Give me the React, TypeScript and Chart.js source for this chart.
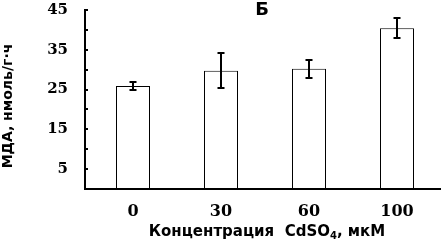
import React, { useEffect, useRef } from "react";
import { Chart, registerables } from "chart.js";

Chart.register(...registerables);

const categories = ["0", "30", "60", "100"];
const mdaValues = [25.9, 29.7, 30.2, 40.4];
const mdaErrors = [1.1, 4.4, 2.3, 2.5];
const yTickLabels = [5, 15, 25, 35, 45];
const yTickMarks = [5, 10, 15, 20, 25, 30, 35, 40, 45];
const chartTitle = "Б";
const xAxisTitleMain = "Концентрация  CdSO";
const xAxisTitleSub = "4";
const xAxisTitleTail = ", мкМ";
const yAxisTitle = "МДА, нмоль/г·ч";

const AXIS_X = 85;
const AXIS_LEFT_END = 84;

const axesPlugin = {
  id: "axesLines",
  afterDatasetsDraw(chart: any) {
    const ctx = chart.ctx;
    const area = chart.chartArea;
    const yScale = chart.scales.y;
    ctx.save();
    ctx.fillStyle = "#000";
    const yTop = Math.round(yScale.getPixelForValue(45));
    const yBot = Math.round(area.bottom);
    // y axis line (2px)
    ctx.fillRect(AXIS_X - 1, yTop - 1, 2, yBot - yTop + 2);
    // inward tick marks
    yTickMarks.forEach((v) => {
      const py = Math.round(yScale.getPixelForValue(v));
      ctx.fillRect(AXIS_X, py - 1, 3, 2);
    });
    // x axis line (2px)
    ctx.fillRect(AXIS_LEFT_END, yBot - 1, Math.round(area.right) - AXIS_LEFT_END, 2);
    ctx.restore();
  },
};

const errorBarPlugin = {
  id: "errorBars",
  afterDatasetsDraw(chart: any) {
    const ctx = chart.ctx;
    const meta = chart.getDatasetMeta(0);
    const yScale = chart.scales.y;
    ctx.save();
    ctx.strokeStyle = "#000";
    ctx.lineWidth = 2;
    meta.data.forEach((el: any, i: number) => {
      const x = Math.round(el.x);
      const top = Math.round(yScale.getPixelForValue(mdaValues[i] + mdaErrors[i]));
      const bot = Math.round(yScale.getPixelForValue(mdaValues[i] - mdaErrors[i]));
      ctx.beginPath();
      ctx.moveTo(x, top);
      ctx.lineTo(x, bot);
      ctx.moveTo(x - 3.5, top);
      ctx.lineTo(x + 3.5, top);
      ctx.moveTo(x - 3.5, bot);
      ctx.lineTo(x + 3.5, bot);
      ctx.stroke();
    });
    ctx.restore();
  },
};

const textPlugin = {
  id: "texts",
  afterDraw(chart: any) {
    const ctx = chart.ctx;
    ctx.save();
    ctx.fillStyle = "#000";
    // title
    ctx.font = "bold 18px 'DejaVu Sans'";
    ctx.textAlign = "center";
    ctx.textBaseline = "middle";
    ctx.fillText(chartTitle, 262, 10);
    // x title with subscript
    const mainFont = "bold 15px 'DejaVu Sans'";
    const subFont = "bold 10px 'DejaVu Sans'";
    ctx.font = mainFont;
    const w1 = ctx.measureText(xAxisTitleMain).width;
    const w3 = ctx.measureText(xAxisTitleTail).width;
    ctx.font = subFont;
    const w2 = ctx.measureText(xAxisTitleSub).width;
    const total = w1 + w2 + w3;
    let x = 267 - total / 2;
    const y = 232;
    ctx.textAlign = "left";
    ctx.textBaseline = "middle";
    ctx.font = mainFont;
    ctx.fillText(xAxisTitleMain, x, y);
    x += w1;
    ctx.font = subFont;
    ctx.fillText(xAxisTitleSub, x, y + 4);
    x += w2;
    ctx.font = mainFont;
    ctx.fillText(xAxisTitleTail, x, y);
    // y title
    ctx.translate(8, 106);
    ctx.rotate(-Math.PI / 2);
    ctx.font = "bold 14px 'DejaVu Sans'";
    ctx.textAlign = "center";
    ctx.textBaseline = "middle";
    ctx.fillText(yAxisTitle, 0, 0);
    ctx.restore();
  },
};

export default function App() {
  const canvasRef = useRef<HTMLCanvasElement | null>(null);

  useEffect(() => {
    document.body.style.margin = "0";
    const canvas = canvasRef.current;
    if (!canvas) return;
    const chart = new Chart(canvas, {
      type: "bar",
      data: {
        labels: categories,
        datasets: [
          {
            data: mdaValues,
            backgroundColor: "#ffffff",
            borderColor: "#000000",
            borderWidth: 1,
            barThickness: 34,
            inflateAmount: 0,
          },
        ],
      },
      options: {
        responsive: false,
        animation: false,
        layout: { padding: { top: 10, right: 1, left: 0, bottom: 0 } },
        plugins: {
          legend: { display: false },
          tooltip: { enabled: false },
          title: { display: false },
        },
        scales: {
          x: {
            offset: true,
            grid: { display: false, drawTicks: false },
            border: { display: false },
            ticks: {
              color: "#000",
              font: { family: "'DejaVu Serif'", weight: "bold", size: 16 },
              padding: 13,
            },
            afterFit(scale: any) {
              scale.height = 60;
              scale.paddingLeft = 0;
              scale.paddingRight = 0;
            },
          },
          y: {
            min: 0,
            max: 45,
            grid: { display: false, drawTicks: false },
            border: { display: false },
            ticks: {
              stepSize: 5,
              autoSkip: false,
              color: "#000",
              font: { family: "'DejaVu Serif'", weight: "bold", size: 15 },
              padding: 21,
              callback: (v: any) => (yTickLabels.includes(Number(v)) ? String(v) : ""),
            },
            afterFit(scale: any) {
              scale.width = 89;
              scale.paddingTop = 0;
              scale.paddingBottom = 0;
            },
          },
        },
      },
      plugins: [axesPlugin, errorBarPlugin, textPlugin],
    });
    return () => chart.destroy();
  }, []);

  return (
    <div style={{ width: 442, height: 249, background: "#fff" }}>
      <canvas ref={canvasRef} width={442} height={249} />
    </div>
  );
}
